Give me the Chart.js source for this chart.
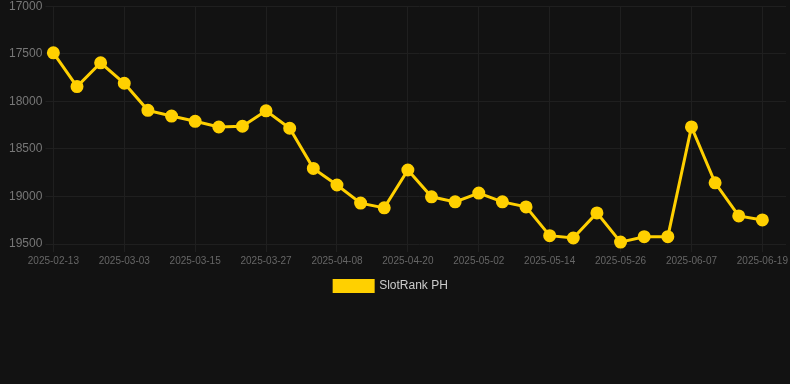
<!DOCTYPE html>
<html>
<head>
<meta charset="utf-8">
<script src="https://cdn.jsdelivr.net/npm/chart.js@4/dist/chart.umd.min.js"></script>
<style>
  html, body { margin: 0; padding: 0; background: #121212; overflow: hidden; }
  #wrap { width: 794px; height: 306px; margin-top: -4px; position: relative; }
</style>
</head>
<body>
<div id="wrap"><canvas id="rankChart"></canvas></div>
<script>
// dates on the x axis (last one has no value yet)
const dates = [
  '2025-02-13', '2025-02-19', '2025-02-25', '2025-03-03', '2025-03-07', '2025-03-11',
  '2025-03-15', '2025-03-19', '2025-03-23', '2025-03-27', '2025-03-31', '2025-04-04',
  '2025-04-08', '2025-04-12', '2025-04-16', '2025-04-20', '2025-04-24', '2025-04-28',
  '2025-05-02', '2025-05-06', '2025-05-10', '2025-05-14', '2025-05-18', '2025-05-22',
  '2025-05-26', '2025-05-30', '2025-06-03', '2025-06-07', '2025-06-11', '2025-06-15',
  '2025-06-19', '2025-06-23'
];
// rank values
const rankPH = [
  17490, 17845, 17595, 17810, 18095, 18155, 18210, 18270, 18262, 18100,
  18283, 18705, 18880, 19070, 19120, 18722, 19004, 19057, 18965, 19057,
  19110, 19412, 19437, 19173, 19480, 19423, 19423, 18269, 18857, 19205,
  19247, null
];
const yTicks = [17000, 17500, 18000, 18500, 19000, 19500];
const seriesName = 'SlotRank PH';
const lineColor = '#FFD000';
const gridColor = '#1f1f1f';

function shownTick(index) {
  return index % 3 === 0 && index < 31;
}

// legend in the original sits a little left of the canvas centre
const legendShift = {
  id: 'legendShift',
  afterLayout: function (chart) {
    chart.legend.left -= 9;
    chart.legend.right -= 9;
  }
};

const ctx = document.getElementById('rankChart').getContext('2d');
const config = {
  type: 'line',
  data: {
    labels: dates,
    datasets: [{
      label: seriesName,
      data: rankPH,
      borderColor: lineColor,
      backgroundColor: lineColor,
      borderWidth: 3,
      pointRadius: 5,
      pointBackgroundColor: lineColor,
      pointBorderColor: lineColor,
      tension: 0,
      clip: false
    }]
  },
  options: {
    responsive: true,
    maintainAspectRatio: false,
    animation: false,
    layout: { padding: { left: 6, right: 0, top: 0, bottom: 0 } },
    plugins: {
      legend: {
        position: 'bottom',
        labels: {
          color: '#cccccc',
          boxWidth: 39,
          boxHeight: 11,
          font: { size: 12, family: 'Arial, "Liberation Sans", sans-serif' }
        }
      },
      tooltip: { enabled: false }
    },
    scales: {
      x: {
        offset: false,
        grid: {
          color: function (c) { return shownTick(c.index) ? gridColor : 'rgba(0,0,0,0)'; }
        },
        border: { display: false },
        ticks: {
          color: '#666666',
          autoSkip: false,
          maxRotation: 0,
          font: { size: 10, family: 'Arial, "Liberation Sans", sans-serif' },
          callback: function (value, index) {
            return shownTick(index) ? this.getLabelForValue(value) : '';
          }
        }
      },
      y: {
        reverse: true,
        min: 17000,
        max: 19500,
        afterBuildTicks: function (axis) {
          axis.ticks = yTicks.map(function (v) { return { value: v }; });
        },
        grid: { color: gridColor },
        border: { display: false },
        ticks: {
          color: '#777777',
          font: { size: 12, family: 'Arial, "Liberation Sans", sans-serif' },
          callback: function (value) { return String(value); }
        }
      }
    }
  },
  plugins: [legendShift]
};
new Chart(ctx, config);
</script>
</body>
</html>
